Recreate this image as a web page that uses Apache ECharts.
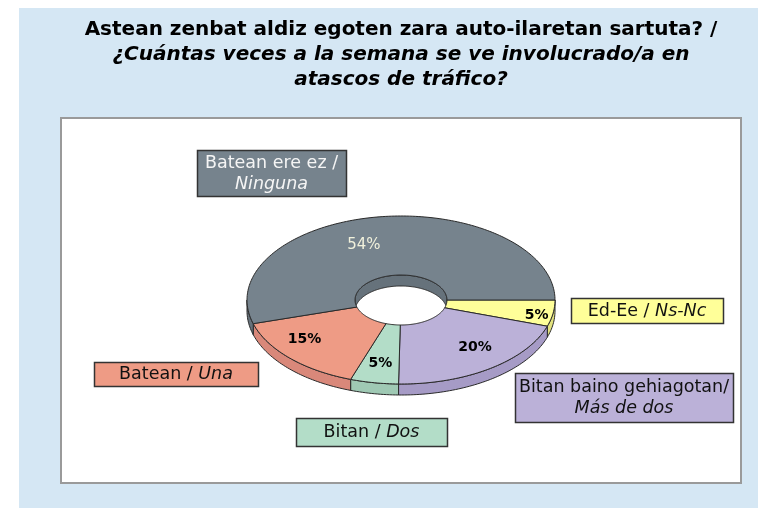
<!DOCTYPE html>
<html>
<head>
<meta charset="utf-8">
<script src="https://cdn.jsdelivr.net/npm/echarts@6/dist/echarts.min.js"></script>
<style>html,body{margin:0;padding:0;background:#fff}#c{width:758px;height:508px}</style>
</head>
<body>
<div id="c"></div>
<script>
// ---- data ----
const labelsEu = ['Ed-Ee / ', 'Bitan baino gehiagotan/', 'Bitan / ', 'Batean / ', 'Batean ere ez /'];
const labelsEs = ['Ns-Nc', 'Más de dos', 'Dos', 'Una', 'Ninguna'];
const values = [5, 20, 5, 15, 54];
const pctLabels = ['5%', '20%', '5%', '15%', '54%'];
const titleLine1 = 'Astean zenbat aldiz egoten zara auto-ilaretan sartuta? /';
const titleLine2 = '¿Cuántas veces a la semana se ve involucrado/a en';
const titleLine3 = 'atascos de tráfico?';

// ---- styles / layout ----
const topColors = ['#ffff99', '#bbb1d8', '#b3ddc8', '#ee9b85', '#76838d'];
const sideColors = ['#e3e37f', '#a69bc6', '#9fc9b4', '#d9887a', '#66727b'];
const boxText = ['#111', '#111', '#111', '#111', '#f5f5f5'];
const pctStyle = [
  {r: 0.90, da: 3, color: '#000', weight: 'bold', size: 14},
  {r: 0.74, da: -5, color: '#000', weight: 'bold', size: 14},
  {r: 0.77, da: 0, color: '#000', weight: 'bold', size: 14},
  {r: 0.78, da: 7, color: '#000', weight: 'bold', size: 14},
  {r: 0.70, da: -12, color: '#f1f1dc', weight: 'normal', size: 15}
];
const boxes = [
  {x: 571, y: 298, w: 152, h: 25, two: false},
  {x: 515, y: 373, w: 218, h: 49, two: true},
  {x: 296, y: 418, w: 151, h: 28, two: false},
  {x: 94, y: 362, w: 164, h: 24, two: false},
  {x: 197, y: 150, w: 149, h: 46, two: true}
];
const geo = {cx: 401, cy: 300, rx: 154, ry: 84, irx: 46, iry: 25, depth: 11};
const FONT = '"DejaVu Sans", sans-serif';
const EDGE = '#2a2a2a';

const total = values.reduce((a, b) => a + b, 0);
const starts = [];
(function () { let acc = 0; values.forEach(v => { starts.push(acc / total * 2 * Math.PI); acc += v; }); })();

function arc(a1, a2, rx, ry, dy) {
  const n = Math.max(2, Math.ceil(Math.abs(a2 - a1) / 0.02));
  const pts = [];
  for (let k = 0; k <= n; k++) {
    const a = a1 + (a2 - a1) * k / n;
    pts.push([geo.cx + rx * Math.cos(a), geo.cy + ry * Math.sin(a) + dy]);
  }
  return pts;
}

function renderWalls(params, api) {
  const i = params.dataIndex;
  const a1 = starts[i], a2 = a1 + api.value(0) / total * 2 * Math.PI;
  const children = [];
  const b1 = Math.max(a1, 0), b2 = Math.min(a2, Math.PI);
  if (b2 > b1) {
    const pts = arc(b1, b2, geo.rx, geo.ry, 0).concat(arc(b2, b1, geo.rx, geo.ry, geo.depth));
    children.push({type: 'polygon', shape: {points: pts}, style: {fill: sideColors[i], stroke: EDGE, lineWidth: 1}});
  }
  const c1 = Math.max(a1, Math.PI), c2 = Math.min(a2, 2 * Math.PI);
  if (c2 > c1) {
    const pts = arc(c1, c2, geo.irx, geo.iry, 0).concat(arc(c2, c1, geo.irx, geo.iry, geo.depth));
    children.push({type: 'polygon', shape: {points: pts}, style: {fill: sideColors[i], stroke: EDGE, lineWidth: 1}});
  }
  return {type: 'group', children: children};
}

function renderTop(params, api) {
  const i = params.dataIndex;
  const a1 = starts[i], a2 = a1 + api.value(0) / total * 2 * Math.PI;
  const children = [];
  const pts = arc(a1, a2, geo.rx, geo.ry, 0).concat(arc(a2, a1, geo.irx, geo.iry, 0));
  children.push({type: 'polygon', shape: {points: pts}, style: {fill: topColors[i], stroke: EDGE, lineWidth: 1}});
  const ps = pctStyle[i];
  const mid = (a1 + a2) / 2 + ps.da * Math.PI / 180;
  children.push({
    type: 'text',
    x: geo.cx + geo.rx * ps.r * Math.cos(mid),
    y: geo.cy + geo.ry * ps.r * Math.sin(mid),
    style: {text: pctLabels[i], fill: ps.color, fontFamily: FONT, fontSize: ps.size, fontWeight: ps.weight, align: 'center', verticalAlign: 'middle'}
  });
  const b = boxes[i];
  children.push({type: 'rect', shape: {x: b.x + 0.5, y: b.y + 0.5, width: b.w, height: b.h}, style: {fill: topColors[i], stroke: '#333', lineWidth: 1.5}});
  const txt = b.two ? '{n|' + labelsEu[i] + '}\n{i|' + labelsEs[i] + '}' : '{n|' + labelsEu[i] + '}{i|' + labelsEs[i] + '}';
  children.push({
    type: 'text',
    x: b.x + b.w / 2,
    y: b.y + b.h / 2 + 0.5,
    style: {
      text: txt, align: 'center', verticalAlign: 'middle', fill: boxText[i],
      rich: {
        n: {fill: boxText[i], fontFamily: FONT, fontSize: 17.5, lineHeight: 21},
        i: {fill: boxText[i], fontFamily: FONT, fontSize: 17.5, fontStyle: 'italic', lineHeight: 21}
      }
    }
  });
  return {type: 'group', children: children};
}

const chart = echarts.init(document.getElementById('c'));
const seriesData = values.map((v, i) => ({value: v, name: labelsEu[i] + labelsEs[i]}));
chart.setOption({
  animation: false,
  backgroundColor: '#ffffff',
  title: {
    left: 401, top: 17, textAlign: 'center', padding: 0,
    text: '{a|' + titleLine1 + '}\n{b|' + titleLine2 + '}\n{b|' + titleLine3 + '}',
    textStyle: {
      rich: {
        a: {fontFamily: FONT, fontWeight: 'bold', fontSize: 20, lineHeight: 25, color: '#000'},
        b: {fontFamily: FONT, fontWeight: 'bold', fontStyle: 'italic', fontSize: 20, lineHeight: 25, color: '#000'}
      }
    }
  },
  graphic: [
    {type: 'rect', z: -10, shape: {x: 19, y: 8, width: 739, height: 500}, style: {fill: '#d5e7f4'}},
    {type: 'rect', z: -9, shape: {x: 61, y: 118, width: 680, height: 365}, style: {fill: '#ffffff', stroke: '#9a9a9a', lineWidth: 2}}
  ],
  series: [
    {type: 'custom', coordinateSystem: 'none', renderItem: renderWalls, data: seriesData, silent: true},
    {type: 'custom', coordinateSystem: 'none', renderItem: renderTop, data: seriesData, silent: true}
  ]
});
</script>
</body>
</html>
